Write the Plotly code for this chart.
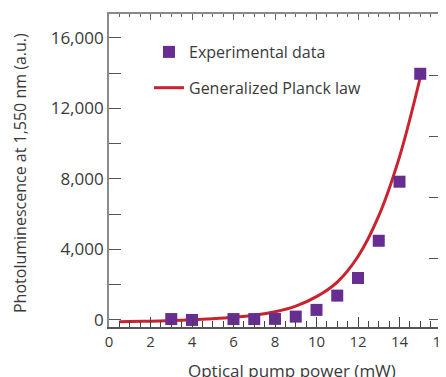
import plotly.graph_objects as go

# Experimental data
exp_power = [3, 4, 6, 7, 8, 9, 10, 11, 12, 13, 14, 15]
exp_pl = [50, 0, 50, 50, 60, 190, 570, 1380, 2380, 4490, 7840, 13960]

# Generalized Planck law
fit_power = [0.5, 1, 2, 3, 4, 5, 6, 7, 8, 9, 10, 11, 12, 13, 14, 15]
fit_pl = [-100, -90, -70, -30, 10, 70, 150, 270, 460, 780, 1320, 2150, 3600, 5900, 9250, 13750]

x_ticks = [0, 2, 4, 6, 8, 10, 12, 14, 16]
y_tick_vals = [0, 2000, 4000, 6000, 8000, 10000, 12000, 14000, 16000]
y_tick_text = ["0", "", "4,000", "", "8,000", "", "12,000", "", "16,000"]
right_ticks = [0, 3460, 6920, 10400, 13850]

FONT = "Open Sans"
TXT = "#3a3a3a"
AX = "#8a8a8a"
XR = [0, 16]
YR = [-400, 17350]

# page body has an 8px margin; figure is sized to compensate
OFF = 8
W, H = 446, 377 - OFF
L, T, R, B = 109 - OFF, 14 - OFF, 5 + OFF, 50
PW = W - L - R
PH = H - T - B


def px(xp):
    return (xp - OFF - L) / PW


def py(yp):
    return (H - B - (yp - OFF)) / PH


fig = go.Figure()
fig.add_trace(go.Scatter(
    x=fit_power, y=fit_pl, mode="lines", name="Generalized Planck law",
    line=dict(color="#c8232f", width=3, shape="spline", smoothing=1.0),
    legendrank=2, legendgroup="b"))
fig.add_trace(go.Scatter(
    x=exp_power, y=exp_pl, mode="markers", name="Experimental data",
    marker=dict(symbol="square", size=12, color="#672d91", line=dict(width=0)),
    legendrank=1, legendgroup="a"))
# helper trace for the mirrored top / right axes
fig.add_trace(go.Scatter(x=[None], y=[None], xaxis="x2", yaxis="y2",
                         showlegend=False, hoverinfo="skip"))

fig.update_layout(
    width=W, height=H,
    margin=dict(l=L, r=R, t=T, b=B, autoexpand=False),
    paper_bgcolor="white", plot_bgcolor="white",
    font=dict(family=FONT, color=TXT),
    showlegend=True,
    legend=dict(x=px(149), y=py(35), xanchor="left", yanchor="top",
                bgcolor="rgba(0,0,0,0)", font=dict(size=16, color=TXT, family=FONT),
                traceorder="grouped", tracegroupgap=12, itemwidth=30),
    xaxis=dict(range=XR, tickvals=x_ticks, ticks="inside", ticklen=10, tickwidth=1.2,
               tickcolor="#444", showline=True, linecolor="#555", linewidth=1.6,
               showgrid=False, zeroline=False, tickfont=dict(size=15, color=TXT),
               ticklabeloverflow="allow", automargin=False,
               minor=dict(dtick=0.5, ticks="inside", ticklen=6, tickwidth=1.2, tickcolor="#444", showgrid=False)),
    xaxis2=dict(range=XR, overlaying="x", side="top", tickvals=x_ticks, ticks="inside",
                ticklen=6, tickwidth=1.2, tickcolor="#666", showline=True, linecolor=AX,
                linewidth=1.6, showgrid=False, zeroline=False, showticklabels=False,
                automargin=False,
                minor=dict(dtick=0.5, ticks="inside", ticklen=3.5, tickwidth=1.2, tickcolor="#666", showgrid=False)),
    yaxis=dict(range=YR, tickvals=y_tick_vals, ticktext=y_tick_text,
               ticks="inside", ticklen=12, tickwidth=1.2, tickcolor="#555",
               showline=True, linecolor=AX, linewidth=1.8, showgrid=False, zeroline=False,
               tickfont=dict(size=17, color=TXT), automargin=False),
    yaxis2=dict(range=YR, overlaying="y", side="right", tickvals=right_ticks, ticks="inside",
                ticklen=12, tickwidth=1.2, tickcolor="#555", showline=True, linecolor=AX,
                linewidth=1.6, showgrid=False, zeroline=False, showticklabels=False,
                automargin=False),
    annotations=[
        dict(text="Optical pump power (mW)", xref="paper", yref="paper",
             x=px(292), y=py(370), xanchor="center", yanchor="middle",
             showarrow=False, font=dict(size=17, color=TXT, family=FONT)),
        dict(text="Photoluminescence at 1,550 nm (a.u.)", xref="paper", yref="paper",
             x=px(20), y=py(173), xanchor="center", yanchor="middle",
             textangle=-90, showarrow=False, font=dict(size=16, color=TXT, family=FONT)),
    ],
)

fig.write_html("out.html")
